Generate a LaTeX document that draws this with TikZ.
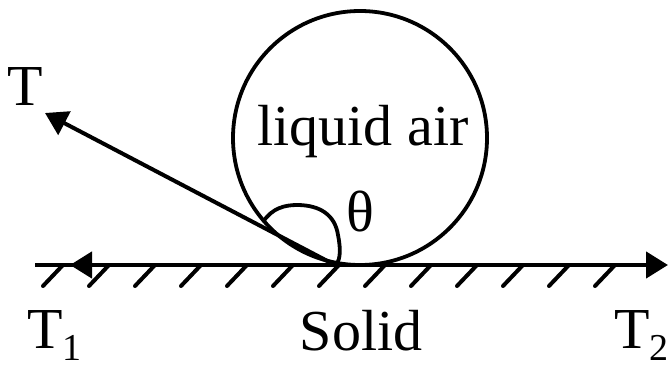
\documentclass[tikz,border=0pt]{standalone}
\usepackage{fontspec}
\setmainfont{Liberation Serif}
\usetikzlibrary{arrows.meta}
\begin{document}
\begin{tikzpicture}[x=1pt,y=-1pt,
  lbl/.style={inner sep=0pt,font=\fontsize{58}{60}\selectfont},
  tipped/.style={-{Triangle[length=22pt,width=26pt]}},
  hatch/.style={line width=4pt,line cap=round}]
\useasboundingbox (0,0) rectangle (671,367);
\coordinate (C) at (335,265);
\coordinate (L) at (35,265);
\coordinate (R) at (668,265);
\coordinate (A) at (45,113);
\coordinate (B) at (70,265);
\coordinate (O) at (360,138);
\coordinate (P) at (263,222);
\coordinate (Q) at (337,264);
% hatching
\foreach \k in {0,...,12}
  \draw[hatch] ({43+46*\k},286) -- ({63+46*\k},265);
% drop
\draw[line width=3.8pt] (O) circle[radius=127];
% baseline
\draw[line width=4.5pt,tipped] (L) -- (R);
\draw[line width=4.5pt,tipped] (C) -- (B);
% tension T
\draw[line width=4pt,tipped] (C) -- (A);
% angle
\draw[line width=3.8pt] (P) .. controls (272,208) and (285,205) .. (297,205)
  .. controls (320,205) and (335,215) .. (338,235)
  .. controls (341,250) and (340,258) .. (Q);
% labels
\node[lbl,anchor=base] (liq) at (363,145) {liquid air};
\node[lbl,anchor=base] (th) at (360,231) {θ};
\node[lbl,anchor=base] (T) at (25.5,105) {T};
\node[lbl,anchor=base west] (T1) at (27,348) {T\raisebox{-12pt}{\fontsize{38}{38}\selectfont 1}};
\node[lbl,anchor=base] (sol) at (361,350) {Solid};
\node[lbl,anchor=base west] (T2) at (614,348) {T\raisebox{-12pt}{\fontsize{38}{38}\selectfont 2}};
\end{tikzpicture}
\end{document}
